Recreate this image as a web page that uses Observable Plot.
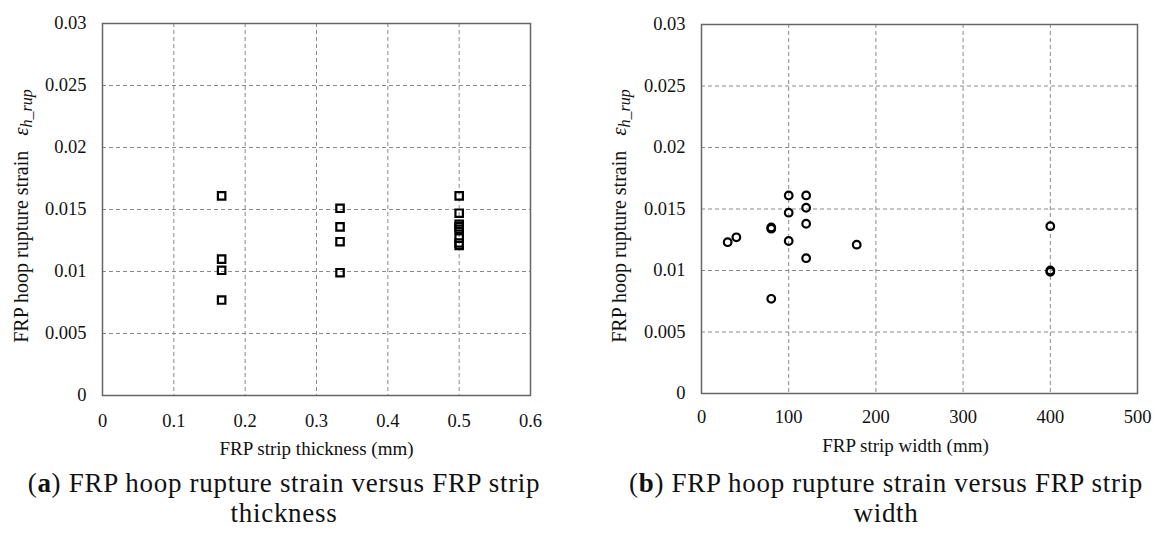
<!DOCTYPE html>
<html>
<head>
<meta charset="utf-8">
<script src="https://cdn.jsdelivr.net/npm/d3@7"></script>
<script src="https://cdn.jsdelivr.net/npm/@observablehq/plot@0.6"></script>
<style>
  html, body { margin: 0; padding: 0; background: #fff; }
  #wrap { position: relative; width: 1158px; height: 534px; background: #fff; overflow: hidden; }
  .panel { position: absolute; top: 0; }
  .cap { position: absolute; text-align: center; font-family: "Liberation Serif", "Times New Roman", serif; font-size: 27px; line-height: 30px; color: #111; letter-spacing: 0.7px; }
</style>
</head>
<body>
<div id="wrap">
  <div id="pa" class="panel" style="left:0px"></div>
  <div id="pb" class="panel" style="left:580px"></div>
  <div class="cap" style="left:0px; width:568px; top:468px;">(<b>a</b>) FRP hoop rupture strain versus FRP strip<br>thickness</div>
  <div class="cap" style="left:596px; width:580px; top:468px;">(<b>b</b>) FRP hoop rupture strain versus FRP strip<br>width</div>
</div>
<script>
// ---- data ----
const thicknessMm = [0.167, 0.167, 0.167, 0.167, 0.333, 0.333, 0.333, 0.333, 0.5, 0.5, 0.5, 0.5, 0.5, 0.5, 0.5, 0.5];
const strainByThickness = [0.0161, 0.0110, 0.0101, 0.0077, 0.0151, 0.0136, 0.0124, 0.0099, 0.0161, 0.0147, 0.0138, 0.0136, 0.0134, 0.0127, 0.0123, 0.0121];
const widthMm = [30, 40, 80, 80, 80, 100, 100, 100, 120, 120, 120, 120, 178, 400, 400, 400];
const strainByWidth = [0.0123, 0.0127, 0.0135, 0.0134, 0.0077, 0.0161, 0.0147, 0.0124, 0.0161, 0.0151, 0.0138, 0.0110, 0.0121, 0.0136, 0.0100, 0.0099];
const strainTicks = [0, 0.005, 0.01, 0.015, 0.02, 0.025, 0.03];
const thicknessTicks = [0, 0.1, 0.2, 0.3, 0.4, 0.5, 0.6];
const widthTicks = [0, 100, 200, 300, 400, 500];
const xTitleA = "FRP strip thickness (mm)";
const xTitleB = "FRP strip width (mm)";
const yTitle = "FRP hoop rupture strain";

const fontFam = "'Liberation Serif', 'Times New Roman', serif";
const gridStyle = { stroke: "#8a8a8a", strokeOpacity: 1, strokeWidth: 1, strokeDasharray: "4,3" };

function makePanel(o) {
  const idx = d3.range(o.xs.length);
  const svg = Plot.plot({
    width: o.width, height: 460,
    marginLeft: o.ml, marginRight: o.mr, marginTop: o.mt, marginBottom: o.mb,
    style: { fontFamily: fontFam, fontSize: "18.5px", color: "#111", background: "transparent" },
    x: { domain: [o.xTicks[0], o.xTicks[o.xTicks.length - 1]] },
    y: { domain: [0, 0.03] },
    marks: [
      Plot.gridX(o.xTicks.slice(1, -1), gridStyle),
      Plot.gridY(strainTicks.slice(1, -1), gridStyle),
      Plot.frame({ stroke: "#666", strokeWidth: 1.5 }),
      Plot.axisX({ ticks: o.xTicks, tickSize: 0, tickPadding: o.xpad, label: null, tickFormat: d => String(d) }),
      Plot.axisY({ ticks: strainTicks, tickSize: 0, tickPadding: 16, label: null, tickFormat: d => String(d) }),
      Plot.dot(idx, { x: i => o.xs[i], y: i => o.ys[i], symbol: o.symbol, r: o.r, stroke: "#000", strokeWidth: 2.2, fill: "none" }),
      Plot.text([o.xTitle], { text: d => d, frameAnchor: "bottom", dy: o.titleDy, dx: o.titleDx, lineAnchor: "middle", fontSize: 19, fill: "#111" })
    ]
  });
  const s = d3.select(svg);
  const t = s.append("text")
    .attr("transform", `translate(${o.ylx},${o.yly}) rotate(-90)`)
    .attr("text-anchor", "middle")
    .attr("font-family", fontFam)
    .attr("font-size", 20)
    .attr("fill", "#111");
  t.append("tspan").text(yTitle);
  t.append("tspan").attr("dx", 15).attr("font-style", "italic").attr("font-size", 21).text("ε");
  t.append("tspan").attr("dy", 4).attr("font-style", "italic").attr("font-size", 16).text("h_rup");
  return svg;
}

document.getElementById("pa").appendChild(makePanel({
  width: 580, ml: 102, mr: 50, mt: 23, mb: 65,
  xs: thicknessMm, ys: strainByThickness, xTicks: thicknessTicks,
  symbol: "square", r: 4.2, xpad: 18, xTitle: xTitleA, titleDy: 53, titleDx: 0,
  ylx: 28, yly: 216
}));
document.getElementById("pb").appendChild(makePanel({
  width: 578, ml: 121, mr: 21, mt: 24, mb: 67,
  xs: widthMm, ys: strainByWidth, xTicks: widthTicks,
  symbol: "circle", r: 3.8, xpad: 16, xTitle: xTitleB, titleDy: 52, titleDx: -14,
  ylx: 46, yly: 216
}));
</script>
</body>
</html>
